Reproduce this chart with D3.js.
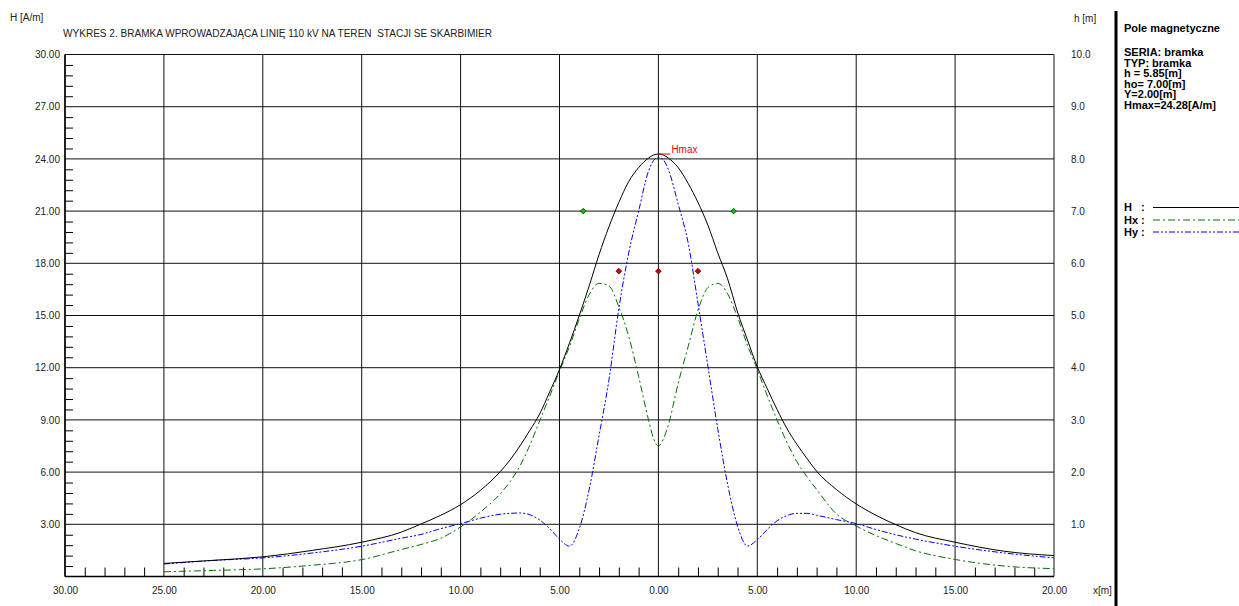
<!DOCTYPE html>
<html><head><meta charset="utf-8">
<script src="https://cdn.jsdelivr.net/npm/d3@7"></script>
<style>
body{margin:0;background:#fff;}
svg{display:block;font-family:"Liberation Sans",Arial,sans-serif;}
</style>
</head><body>
<svg id="c" width="1239" height="606"></svg>
<script>
// ---- data ----
const xPos = [-25,-22.5,-20,-17.5,-15,-13,-12,-11,-10,-9,-8,-7.5,-7,-6.5,-6,-5.5,-5,-4.5,-4,-3.5,-3,-2.5,-2,-1.5,-1,-0.5,-0.25,0,0.25,0.5,1,1.5,2,2.5,3,3.5,4,4.5,5,5.5,6,6.5,7,7.5,8,9,10,11,12,13,15,17.5,20];
const H  = [0.75,0.93,1.13,1.50,1.97,2.55,3.02,3.52,4.13,4.95,6.02,6.70,7.50,8.40,9.35,10.60,11.90,13.40,15.00,16.70,18.50,20.10,21.50,22.70,23.50,24.05,24.22,24.28,24.22,24.05,23.50,22.60,21.50,20.20,18.60,17.10,15.20,13.60,12.05,10.80,9.60,8.50,7.60,6.80,6.05,5.00,4.17,3.52,2.98,2.52,1.97,1.45,1.20];
const Hx = [0.27,0.35,0.44,0.65,0.97,1.55,1.84,2.20,2.85,3.70,4.75,5.45,6.35,7.55,8.95,10.35,11.80,13.20,14.80,16.20,16.85,16.70,15.50,13.80,11.50,9.00,7.95,7.50,7.90,8.70,11.10,13.20,15.30,16.60,16.85,16.25,14.90,13.30,11.90,10.40,9.00,7.70,6.60,5.75,5.00,3.60,2.90,2.35,1.90,1.48,0.98,0.60,0.45];
const Hy = [0.72,0.92,1.07,1.35,1.74,2.20,2.42,2.75,3.04,3.35,3.58,3.63,3.65,3.55,3.25,2.75,2.15,1.74,2.75,5.00,8.10,11.30,15.40,18.60,21.00,23.30,23.90,24.10,23.95,23.40,21.40,19.20,15.70,12.10,8.50,5.30,2.90,1.75,2.12,2.70,3.20,3.50,3.63,3.63,3.52,3.27,3.04,2.70,2.40,2.15,1.74,1.35,1.07];
const yTicks = [3,6,9,12,15,18,21,24,27,30];
const xTicks = [-30,-25,-20,-15,-10,-5,0,5,10,15,20];
const hTicks = [1,2,3,4,5,6,7,8,9,10];
const phaseX = [-2,0,2];
const phaseH = 5.85;
const groundX = [-3.8,3.8];
const groundH = 7.0;
const Hmax = 24.28;
const title = "WYKRES 2. BRAMKA WPROWADZAJĄCA LINIĘ 110 kV NA TEREN  STACJI SE SKARBIMIER";
const infoLines = ["SERIA: bramka","TYP: bramka","h = 5.85[m]","ho= 7.00[m]","Y=2.00[m]","Hmax=24.28[A/m]"];
const legendItems = [
  {name:"H", color:"#000000", dash:null},
  {name:"Hx", color:"#007000", dash:"7,3,2,3"},
  {name:"Hy", color:"#0000ff", dash:"6,2,2,2,2,2"}
];

// ---- drawing ----
const svg = d3.select("#c");
const x = d3.scaleLinear().domain([-30,20]).range([65,1054]);
const y = d3.scaleLinear().domain([0,30]).range([576.5,54.5]);
const yh = d3.scaleLinear().domain([0,10]).range([576.5,54.5]);

// grid
const g = svg.append("g");
g.selectAll("line.v").data(xTicks).join("line")
  .attr("x1",d=>x(d)).attr("x2",d=>x(d)).attr("y1",y(0)).attr("y2",y(30))
  .attr("stroke","#111").attr("stroke-width",1);
g.selectAll("line.h").data(yTicks).join("line")
  .attr("x1",x(-30)).attr("x2",x(20)).attr("y1",d=>y(d)).attr("y2",d=>y(d))
  .attr("stroke","#111").attr("stroke-width",1);
svg.append("line").attr("x1",x(-30)).attr("x2",x(20)).attr("y1",y(0)).attr("y2",y(0))
  .attr("stroke","#000").attr("stroke-width",1.5);
svg.append("line").attr("x1",x(-30)).attr("x2",x(-30)).attr("y1",y(0)).attr("y2",y(30))
  .attr("stroke","#000").attr("stroke-width",1.5);

// left major labels
const la = svg.append("g").attr("transform",`translate(${x(-30)},0)`)
  .call(d3.axisLeft(y).tickValues(yTicks).tickFormat(d=>d.toFixed(2)).tickSize(0).tickPadding(5));
la.select(".domain").remove();
la.selectAll("text").attr("font-size",10).attr("fill","#222").attr("font-family","Liberation Sans, Arial, sans-serif");

// left minor ticks
const minorY = d3.range(0.6,30,0.6).filter(v=>Math.abs(v/3-Math.round(v/3))>1e-6);
const lm = svg.append("g").attr("transform",`translate(${x(-30)},0)`)
  .call(d3.axisRight(y).tickValues(minorY).tickSize(8).tickFormat(""));
lm.select(".domain").remove();
lm.selectAll("line").attr("stroke","#000");

// bottom labels
const ba = svg.append("g").attr("transform",`translate(0,${y(0)})`)
  .call(d3.axisBottom(x).tickValues(xTicks).tickFormat(d=>Math.abs(d).toFixed(2)).tickSize(0).tickPadding(10));
ba.select(".domain").remove();
ba.selectAll("text").attr("font-size",10).attr("fill","#222").attr("font-family","Liberation Sans, Arial, sans-serif");

// bottom minor ticks
const minorX = d3.range(-29,20,1).filter(v=>v%5!==0);
const bm = svg.append("g").attr("transform",`translate(0,${y(0)})`)
  .call(d3.axisTop(x).tickValues(minorX).tickSize(9).tickFormat(""));
bm.select(".domain").remove();
bm.selectAll("line").attr("stroke","#000");

// right h labels
const ra = svg.append("g").attr("transform",`translate(1071,0)`)
  .call(d3.axisRight(yh).tickValues(hTicks).tickFormat(d=>d.toFixed(1)).tickSize(0).tickPadding(0));
ra.select(".domain").remove();
ra.selectAll("text").attr("font-size",10).attr("fill","#222").attr("font-family","Liberation Sans, Arial, sans-serif");

// axis titles
svg.append("text").attr("x",10).attr("y",21).attr("font-size",10).attr("fill","#222").text("H [A/m]");
svg.append("text").attr("x",1074).attr("y",22).attr("font-size",10).attr("fill","#222").text("h [m]");
svg.append("text").attr("x",1093).attr("y",594).attr("font-size",10).attr("fill","#222").text("x[m]");
svg.append("text").attr("x",63).attr("y",37).attr("font-size",10).attr("fill","#222")
  .attr("textLength",429).attr("lengthAdjust","spacingAndGlyphs")
  .style("white-space","pre").text(title);

// curves
const series = [
  {vals:Hx, color:"#007000", dash:"7,3,2,3"},
  {vals:Hy, color:"#0000ff", dash:"6,2,2,2,2,2"},
  {vals:H, color:"#000000", dash:null}
];
const line = d3.line().x(d=>x(d[0])).y(d=>y(d[1])).curve(d3.curveMonotoneX);
series.forEach(s=>{
  svg.append("path").datum(xPos.map((xv,i)=>[xv,s.vals[i]]))
    .attr("d",line).attr("fill","none").attr("stroke",s.color).attr("stroke-width",1)
    .attr("stroke-dasharray",s.dash);
});

// Hmax marker
const iMax = H.indexOf(d3.max(H));
svg.append("line").attr("x1",x(xPos[iMax])).attr("x2",x(xPos[iMax])+12)
  .attr("y1",y(Hmax)).attr("y2",y(Hmax)).attr("stroke","#ff0000").attr("stroke-width",1);
svg.append("text").attr("x",x(xPos[iMax])+13).attr("y",y(Hmax)-1).attr("font-size",10).attr("fill","#ff0000").text("Hmax");

// conductors
const dia = d3.symbol().type(d3.symbolSquare).size(16);
svg.selectAll("path.ph").data(phaseX).join("path").attr("class","ph")
  .attr("d",dia).attr("transform",d=>`translate(${x(d)},${yh(phaseH)}) rotate(45)`)
  .attr("fill","#d00000").attr("stroke","#700000").attr("stroke-width",0.8);
svg.selectAll("path.gr").data(groundX).join("path").attr("class","gr")
  .attr("d",dia).attr("transform",d=>`translate(${x(d)},${yh(groundH)}) rotate(45)`)
  .attr("fill","#00c000").attr("stroke","#005000").attr("stroke-width",0.8);

// right panel
svg.append("line").attr("x1",1116).attr("x2",1116).attr("y1",11).attr("y2",606)
  .attr("stroke","#000").attr("stroke-width",3);
svg.append("text").attr("x",1124).attr("y",32).attr("font-size",11).attr("font-weight","bold").text("Pole magnetyczne");
svg.selectAll("text.info").data(infoLines).join("text").attr("class","info")
  .attr("x",1124).attr("y",(d,i)=>56+i*10.6).attr("font-size",11).attr("font-weight","bold").text(d=>d);
const lg = svg.selectAll("g.lg").data(legendItems).join("g").attr("class","lg")
  .attr("transform",(d,i)=>`translate(0,${[207,219.5,231.5][i]})`);
lg.append("text").attr("x",1124).attr("y",4).attr("font-size",11).attr("font-weight","bold").text(d=>d.name);
lg.append("text").attr("x",1141).attr("y",4).attr("font-size",11).attr("font-weight","bold").text(":");
lg.append("line").attr("x1",1153).attr("x2",1239).attr("y1",0.5).attr("y2",0.5)
  .attr("stroke",d=>d.color).attr("stroke-width",1).attr("stroke-dasharray",d=>d.dash);
</script>
</body></html>
